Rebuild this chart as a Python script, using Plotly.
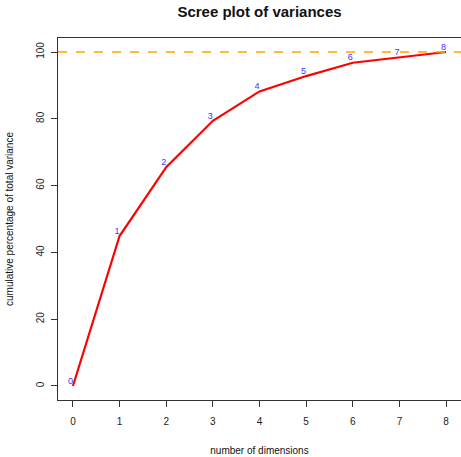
import plotly.graph_objects as go

dims = [0, 1, 2, 3, 4, 5, 6, 7, 8]
cum_var = [0, 44.9, 65.5, 79.4, 88.2, 92.8, 96.8, 98.4, 100]
labels = [str(d) for d in dims]

fig = go.Figure()
fig.add_trace(go.Scatter(x=dims, y=cum_var, mode="lines",
                         line=dict(color="#ff0000", width=2.2), showlegend=False))
fig.add_trace(go.Scatter(x=dims, y=cum_var, mode="text", text=labels,
                         textposition="top left", cliponaxis=False,
                         textfont=dict(color="#3333ff", size=9, family="Liberation Sans, Arial"),
                         showlegend=False))
fig.add_shape(type="line", xref="paper", x0=0, x1=1, yref="y", y0=100, y1=100,
              line=dict(color="orange", width=1.6, dash="dash"))

axis_common = dict(showgrid=False, zeroline=False, showline=True, mirror=True,
                   linecolor="#333333", linewidth=1, ticks="outside", ticklen=6,
                   tickcolor="#333333", tickfont=dict(size=10, color="#222222"))
fig.update_xaxes(range=[-0.32, 8.32], tickvals=dims, ticklabelstandoff=6,
                 title=dict(text="number of dimensions", font=dict(size=10), standoff=20),
                 **axis_common)
fig.update_yaxes(range=[-4.2, 104.2], tickvals=[0, 20, 40, 60, 80, 100], tickangle=-90,
                 ticklabelstandoff=3,
                 title=dict(text="cumulative percentage of total variance", font=dict(size=10), standoff=19),
                 **axis_common)
fig.update_layout(
    width=461, height=457,
    margin=dict(l=58, r=0, t=38, b=57, autoexpand=False),
    plot_bgcolor="white", paper_bgcolor="white",
    font=dict(family="Liberation Sans, Arial, sans-serif", color="#111111"),
    title=dict(text="<b>Scree plot of variances</b>", x=0.563, xanchor="center",
               xref="container", yref="container",
               y=0.974, yanchor="middle", font=dict(size=15)),
)
fig.write_html("out.html", config={"displayModeBar": False},
               post_script="document.body.style.margin='0';")
